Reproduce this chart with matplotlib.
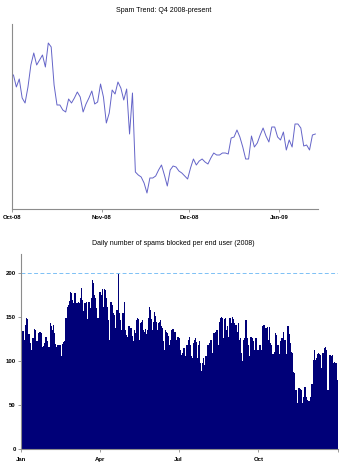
import numpy as np
import pandas as pd
import matplotlib
matplotlib.use('Agg')
import matplotlib.pyplot as plt
import matplotlib.dates as mdates

plt.rcParams['font.family'] = ['Liberation Sans', 'DejaVu Sans']

# Q4 2008 trend, one reading per day from 1 Oct 2008 (no y scale in source)
trend_start = '2008-10-01 12:00'
trend_values = [134, 122, 130, 111, 106, 122, 144, 156, 144, 149, 154, 142, 166, 162,
                124, 104, 104, 99, 97, 110, 106, 111, 117, 112, 97, 105, 111, 118,
                105, 107, 125, 112, 86, 96, 119, 115, 127, 121, 109, 120, 75, 116,
                37, 34, 32, 26, 16, 31, 31, 33, 39, 44, 34, 23, 39, 43, 42, 38, 36,
                33, 30, 41, 50, 44, 48, 50, 47, 45, 51, 56, 54, 54, 56, 56, 55, 71,
                72, 79, 72, 62, 50, 50, 73, 62, 66, 74, 81, 73, 67, 82, 82, 72, 69,
                77, 59, 69, 62, 85, 85, 81, 63, 64, 59, 74, 75]
trend_ticks = ['2008-10-01', '2008-11-01', '2008-12-01', '2009-01-01']
trend_labels = ['Oct-08', 'Nov-08', 'Dec-08', 'Jan-09']

# 2008 daily spams blocked per end user, read left to right across the year
daily_values = [120, 134, 134, 124, 141, 149, 147, 130, 130, 120, 112, 126, 126, 136, 135,
                122, 122, 131, 133, 133, 131, 116, 117, 120, 127, 127, 122, 116, 116, 143,
                139, 135, 141, 131, 119, 116, 118, 118, 118, 118, 105, 119, 121, 122, 148,
                148, 161, 163, 168, 178, 177, 169, 165, 177, 177, 165, 165, 167, 166, 171,
                182, 169, 156, 166, 166, 167, 147, 167, 167, 160, 171, 191, 188, 175, 171,
                160, 148, 148, 178, 178, 175, 181, 161, 181, 180, 171, 161, 146, 123, 167,
                167, 163, 154, 152, 137, 158, 158, 200, 154, 146, 135, 154, 154, 167, 135,
                129, 127, 139, 139, 137, 137, 128, 122, 135, 131, 146, 148, 147, 124, 143,
                144, 146, 135, 133, 136, 130, 135, 149, 161, 158, 147, 135, 144, 155, 151,
                144, 135, 143, 144, 146, 139, 137, 122, 112, 135, 133, 132, 128, 118, 124,
                135, 134, 136, 131, 133, 116, 124, 127, 126, 112, 107, 100, 109, 115, 105,
                103, 118, 118, 124, 127, 118, 105, 103, 120, 124, 126, 121, 103, 118, 122,
                97, 88, 97, 103, 95, 105, 105, 118, 118, 120, 124, 123, 109, 131, 131,
                133, 135, 135, 118, 144, 149, 150, 149, 126, 147, 148, 135, 139, 127, 148,
                148, 143, 150, 147, 143, 141, 141, 133, 143, 124, 126, 109, 100, 123, 126,
                146, 146, 126, 118, 105, 127, 127, 126, 122, 112, 126, 126, 112, 112, 118,
                118, 112, 139, 141, 141, 137, 137, 138, 124, 138, 120, 118, 108, 108, 110,
                131, 129, 118, 118, 108, 122, 126, 126, 133, 124, 124, 108, 139, 139, 130,
                120, 110, 109, 87, 86, 67, 67, 52, 69, 69, 68, 67, 52, 59, 70,
                70, 59, 55, 54, 54, 59, 74, 74, 101, 112, 101, 103, 108, 109, 108,
                107, 92, 109, 109, 114, 116, 112, 67, 67, 107, 107, 105, 107, 98, 99,
                97, 97, 78]
daily_max = 200
year_ticks = ['2008-01-01', '2008-04-01', '2008-07-01', '2008-10-01', '2009-01-01']
year_labels = ['Jan', 'Apr', 'Jul', 'Oct', '']
yticks = [0, 50, 100, 150, 200]

spine_col = '#8c8c8c'
line_col = '#6464c8'
bar_col = '#000078'
dash_col = '#7cc0f5'


def style_axes(ax):
    for s in ['top', 'right']:
        ax.spines[s].set_visible(False)
    for s in ['left', 'bottom']:
        ax.spines[s].set_color(spine_col)
        ax.spines[s].set_linewidth(0.8)
    ax.tick_params(colors=spine_col, labelcolor='black', length=2.5, width=0.6)


fig = plt.figure(figsize=(3.5, 4.67), dpi=100)

# Top panel: trend line
ax1 = fig.add_axes([12/350, 1-209/467, 306/350, 185/467])
tdates = pd.date_range(trend_start, periods=len(trend_values), freq='D')
ax1.plot(tdates, trend_values, color=line_col, linewidth=0.7)
ax1.set_xlim(pd.Timestamp('2008-10-01'), pd.Timestamp('2009-01-14 10:00'))
ax1.set_ylim(0, 185)
ax1.set_yticks([])
ax1.set_xticks(pd.to_datetime(trend_ticks))
ax1.set_xticklabels(trend_labels, fontsize=4.2, fontweight='bold')
style_axes(ax1)
ax1.tick_params(axis='x', pad=2)
fig.text(164/350, 1-10/467, 'Spam Trend: Q4 2008-present', ha='center', va='center',
         fontsize=5)

# Bottom panel: daily bars
ax2 = fig.add_axes([20.7/350, 1-449/467, 317.6/350, 195/467])
x0 = mdates.date2num(pd.Timestamp('2008-01-01'))
x1 = mdates.date2num(pd.Timestamp('2009-01-01'))
step = (x1 - x0) / len(daily_values)
centers = x0 + (np.arange(len(daily_values)) + 0.5) * step
ax2.bar(centers, daily_values, width=step * 1.02, color=bar_col, linewidth=0)
ax2.axhline(daily_max, color=dash_col, linewidth=0.7, linestyle=(0, (4, 2.5)))
ax2.set_xlim(x0, x1)
ax2.set_ylim(0, 221)
ax2.set_yticks(yticks)
ax2.set_yticklabels([str(v) for v in yticks], fontsize=4.3, fontweight='bold')
ax2.set_xticks(mdates.date2num(pd.to_datetime(year_ticks)))
ax2.set_xticklabels(year_labels, fontsize=4.3, fontweight='bold')
style_axes(ax2)
ax2.tick_params(axis='y', pad=1)
ax2.tick_params(axis='x', pad=3)
fig.text(173/350, 1-243/467, 'Daily number of spams blocked per end user (2008)',
         ha='center', va='center', fontsize=5)

fig.savefig('out.png', dpi=100)
